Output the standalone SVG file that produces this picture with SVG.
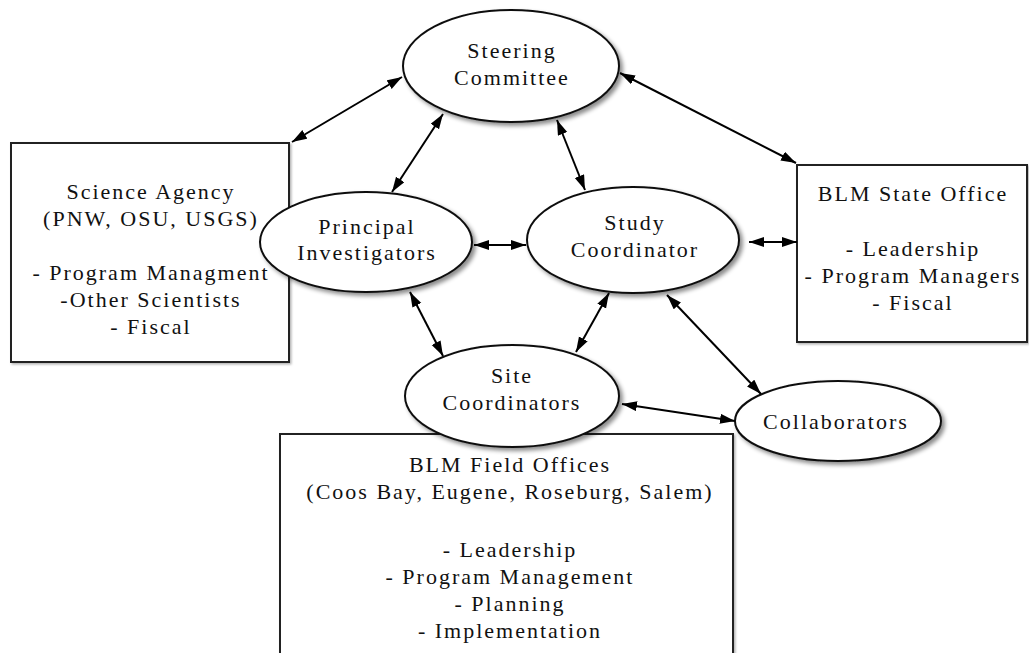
<svg xmlns="http://www.w3.org/2000/svg" width="1029" height="653" viewBox="0 0 1029 653">
  <style>
    .node { fill: #ffffff; stroke: #111111; stroke-width: 2; }
    .box { fill: #ffffff; stroke: #222222; stroke-width: 2; }
    .lbl { font-family: "Liberation Serif", "Times New Roman", serif; font-size: 22px; letter-spacing: 2px; fill: #111111; text-anchor: middle; }
    .conn { stroke: #000000; stroke-width: 2; fill: none; marker-start: url(#ah); marker-end: url(#ah); }
  </style>
  <defs>
    <filter id="sh" x="-20%" y="-20%" width="150%" height="150%">
      <feDropShadow dx="3" dy="3" stdDeviation="2" flood-color="#000000" flood-opacity="0.45"/>
    </filter>
    <filter id="shb" x="-10%" y="-10%" width="130%" height="130%">
      <feDropShadow dx="1.5" dy="1.5" stdDeviation="1" flood-color="#000000" flood-opacity="0.3"/>
    </filter>
    <marker id="ah" markerUnits="userSpaceOnUse" markerWidth="16" markerHeight="11" refX="15" refY="5" orient="auto-start-reverse">
      <path d="M0,0 L15,5 L0,10 z" fill="#000000"/>
    </marker>
  </defs>
  <rect width="1029" height="653" fill="#ffffff"/>

  <g id="science-agency">
    <rect class="box" filter="url(#shb)" x="11" y="143" width="278" height="219"/>
    <text class="lbl" x="151" y="199">Science Agency</text>
    <text class="lbl" x="151" y="226">(PNW, OSU, USGS)</text>
    <text class="lbl" x="151" y="280">- Program Managment</text>
    <text class="lbl" x="151" y="307">-Other Scientists</text>
    <text class="lbl" x="151" y="334">- Fiscal</text>
  </g>

  <g id="blm-state-office">
    <rect class="box" filter="url(#shb)" x="797" y="165" width="230" height="177"/>
    <text class="lbl" x="913" y="201">BLM State Office</text>
    <text class="lbl" x="913" y="256">- Leadership</text>
    <text class="lbl" x="913" y="283">- Program Managers</text>
    <text class="lbl" x="913" y="310">- Fiscal</text>
  </g>

  <g id="blm-field-offices">
    <rect class="box" filter="url(#shb)" x="280" y="434" width="453" height="240"/>
    <text class="lbl" x="510" y="472">BLM Field Offices</text>
    <text class="lbl" x="510" y="499">(Coos Bay, Eugene, Roseburg, Salem)</text>
    <text class="lbl" x="510" y="557">- Leadership</text>
    <text class="lbl" x="510" y="584">- Program Management</text>
    <text class="lbl" x="510" y="611">- Planning</text>
    <text class="lbl" x="510" y="638">- Implementation</text>
  </g>

  <g id="steering-committee">
    <ellipse class="node" filter="url(#sh)" cx="511" cy="66" rx="108" ry="56"/>
    <text class="lbl" x="512" y="58">Steering</text>
    <text class="lbl" x="512" y="85">Committee</text>
  </g>

  <g id="principal-investigators">
    <ellipse class="node" filter="url(#sh)" cx="366" cy="242" rx="106" ry="50"/>
    <text class="lbl" x="367" y="234">Principal</text>
    <text class="lbl" x="367" y="260">Investigators</text>
  </g>

  <g id="study-coordinator">
    <ellipse class="node" filter="url(#sh)" cx="633" cy="240" rx="106" ry="53"/>
    <text class="lbl" x="635" y="230">Study</text>
    <text class="lbl" x="635" y="257">Coordinator</text>
  </g>

  <g id="site-coordinators">
    <ellipse class="node" filter="url(#sh)" cx="512" cy="396" rx="107" ry="51"/>
    <text class="lbl" x="512" y="383">Site</text>
    <text class="lbl" x="512" y="410">Coordinators</text>
  </g>

  <g id="collaborators">
    <ellipse class="node" filter="url(#sh)" cx="838" cy="421" rx="103" ry="40"/>
    <text class="lbl" x="836" y="429">Collaborators</text>
  </g>

  <g id="connectors">
    <line class="conn" x1="292" y1="142" x2="402" y2="77"/>
    <line class="conn" x1="443" y1="114" x2="392" y2="192"/>
    <line class="conn" x1="620" y1="73" x2="796" y2="163"/>
    <line class="conn" x1="557" y1="120" x2="585" y2="190"/>
    <line class="conn" x1="474" y1="245" x2="526" y2="245"/>
    <line class="conn" x1="749" y1="242" x2="797" y2="242"/>
    <line class="conn" x1="410" y1="292" x2="443" y2="356"/>
    <line class="conn" x1="609" y1="293" x2="576" y2="352"/>
    <line class="conn" x1="667" y1="295" x2="761" y2="394"/>
    <line class="conn" x1="622" y1="404" x2="735" y2="421"/>
  </g>
</svg>
